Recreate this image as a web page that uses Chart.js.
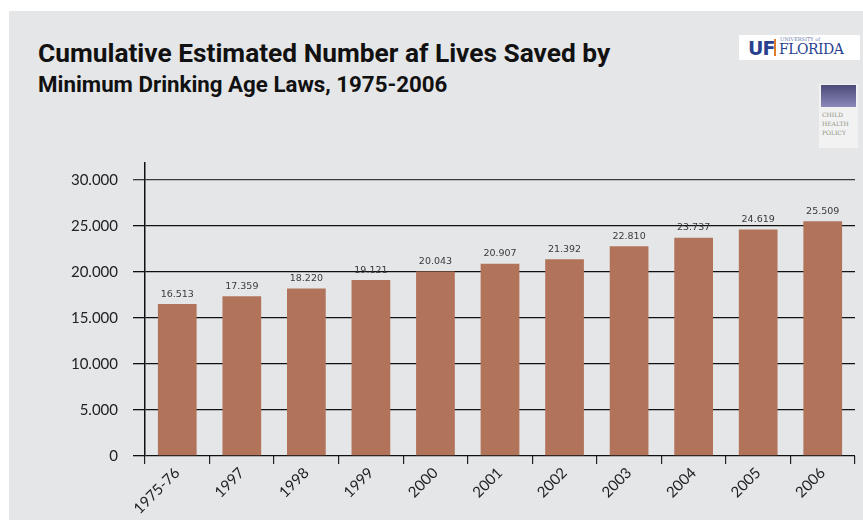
<!DOCTYPE html>
<html>
<head>
<meta charset="utf-8">
<script src="https://cdn.jsdelivr.net/npm/chart.js@4"></script>
<style>
    body { margin: 0; background: #ffffff; }
    #page { position: relative; width: 863px; height: 523px; overflow: hidden; }
    #panel { position: absolute; left: 9px; top: 11px; right: 0; bottom: 3px; background: #e5e6e8; }
    #title { position: absolute; left: 38px; top: 38px; font-family: "Roboto", sans-serif; font-weight: bold; font-size: 26.3px; color: #111; white-space: nowrap; }
    #subtitle { position: absolute; left: 38px; top: 71px; font-family: "Roboto", sans-serif; font-weight: bold; font-size: 22.3px; color: #111; white-space: nowrap; }
    #uf { position: absolute; left: 739px; top: 35px; width: 121px; height: 25px; background: #fff; font-family: "DejaVu Serif", serif; color: #28418f; }
    #uf .u { position: absolute; left: 9px; top: 2px; font-family: "DejaVu Sans", sans-serif; font-weight: bold; font-size: 19px; letter-spacing: -1px; }
    #uf .bar { position: absolute; left: 35px; top: 4px; width: 2px; height: 17px; background: #e07a2c; }
    #uf .fl { position: absolute; left: 40px; top: 6px; font-size: 14px; letter-spacing: -0.5px; }
    #uf .un { position: absolute; left: 41px; top: 1px; font-size: 5px; color: #6b7bb0; }
    #cp { position: absolute; left: 819px; top: 84px; width: 39px; height: 64px; background: #f2f2f2; }
    #cp .img { position: absolute; left: 2px; top: 1px; width: 35px; height: 22px; background: linear-gradient(#4c4a78, #8a88b8); }
    #cp .txt { position: absolute; left: 3px; top: 26px; font-family: "DejaVu Serif", serif; font-size: 6px; line-height: 9px; color: #8a8f80; }
    #chart { position: absolute; left: 0; top: 0; }
</style>
</head>
<body>
<div id="page">
    <div id="panel"></div>
    <div id="title">Cumulative Estimated Number af Lives Saved by</div>
    <div id="subtitle">Minimum Drinking Age Laws, 1975-2006</div>
    <div id="uf"><span class="u">UF</span><span class="bar"></span><span class="un">UNIVERSITY of</span><span class="fl">FLORIDA</span></div>
    <div id="cp"><div class="img"></div><div class="txt">CHILD<br>HEALTH<br>POLICY</div></div>
    <canvas id="chart" width="863" height="523"></canvas>
</div>
<script>
// 数据
const years = ['1975-76', '1997', '1998', '1999', '2000', '2001', '2002', '2003', '2004', '2005', '2006'];
const livesSaved = [16513, 17359, 18220, 19121, 20043, 20907, 21392, 22810, 23737, 24619, 25509];
const valueLabels = ['16.513', '17.359', '18.220', '19.121', '20.043', '20.907', '21.392', '22.810', '23.737', '24.619', '25.509'];
const yTicks = [0, 5000, 10000, 15000, 20000, 25000, 30000];

function formatThousands(v) {
    if (v === 0) return '0';
    return Math.floor(v / 1000) + '.' + String(v % 1000).padStart(3, '0');
}

// 柱顶数值
const valueLabelPlugin = {
    id: 'valueLabels',
    afterDatasetsDraw(chart) {
        const ctx = chart.ctx;
        const meta = chart.getDatasetMeta(0);
        ctx.save();
        ctx.font = '9.5px "DejaVu Sans", sans-serif';
        ctx.fillStyle = '#3a3a3a';
        ctx.textAlign = 'center';
        ctx.textBaseline = 'bottom';
        meta.data.forEach((bar, i) => {
            ctx.fillText(valueLabels[i], bar.x, bar.y - 5);
        });
        ctx.restore();
    }
};

new Chart(document.getElementById('chart'), {
    type: 'bar',
    data: {
        labels: years,
        datasets: [{
            data: livesSaved,
            backgroundColor: '#b1745b',
            borderWidth: 0,
            barPercentage: 0.6,
            categoryPercentage: 1
        }]
    },
    options: {
        responsive: false,
        animation: false,
        layout: { padding: { top: 163, right: 8, left: 0, bottom: 0 } },
        plugins: {
            legend: { display: false },
            tooltip: { enabled: false }
        },
        scales: {
            x: {
                grid: {
                    offset: true,
                    drawOnChartArea: false,
                    drawTicks: true,
                    tickLength: 8,
                    color: '#222',
                    lineWidth: 1.2
                },
                border: { display: false },
                ticks: {
                    maxRotation: 45,
                    minRotation: 45,
                    padding: 0,
                    color: '#222',
                    font: { family: 'Lato', size: 15 }
                },
                afterFit(scale) { scale.height = 67; }
            },
            y: {
                min: 0,
                max: 31850,
                z: 1,
                grid: {
                    color: (c) => c.tick && c.tick.value === 30000 ? '#3a3a3a' : '#111',
                    lineWidth: 1.3,
                    tickLength: 12
                },
                border: { color: '#111', width: 1.5 },
                ticks: {
                    autoSkip: false,
                    padding: 15,
                    color: '#222',
                    font: { family: 'Lato', size: 15 },
                    callback: (v) => formatThousands(v)
                },
                afterBuildTicks(scale) {
                    scale.ticks = yTicks.map(v => ({ value: v }));
                },
                afterFit(scale) { scale.width = 145; }
            }
        }
    },
    plugins: [valueLabelPlugin]
});
</script>
</body>
</html>
